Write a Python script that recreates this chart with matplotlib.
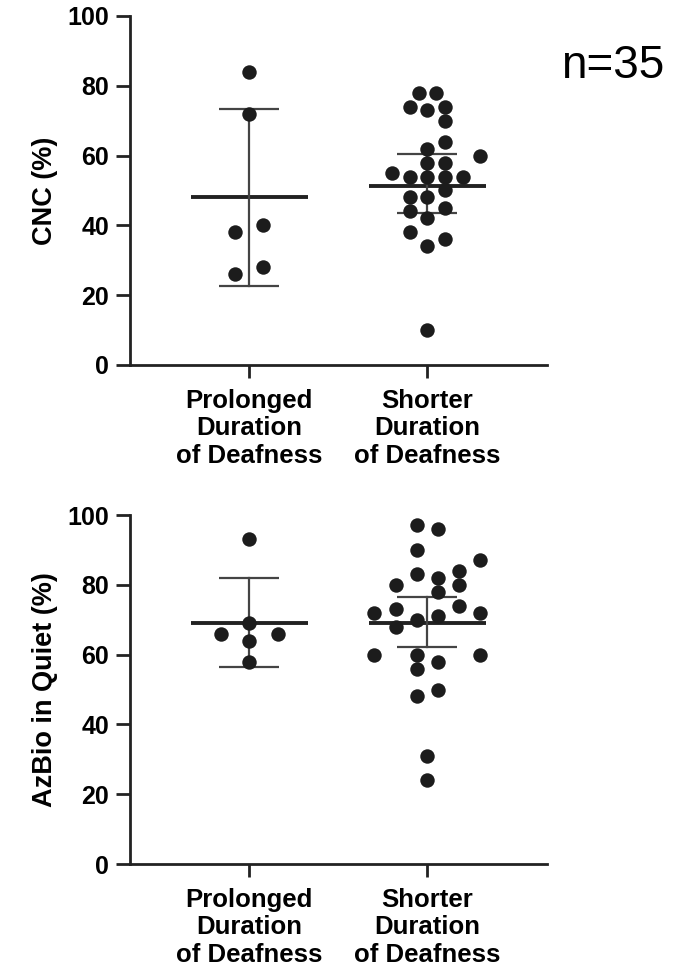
import numpy as np
import matplotlib
matplotlib.use("Agg")
import matplotlib.pyplot as plt


# ============================================================
# Data
# ============================================================

GROUPS = ["Prolonged\nDuration\nof Deafness", "Shorter\nDuration\nof Deafness"]

# CNC (%)
cnc_prolonged = [84, 72, 38, 40, 26, 28]
cnc_prolonged_slot = [0, 0, -0.8, 0.8, -0.8, 0.8]

cnc_shorter = [78, 78, 74, 73, 74, 70, 64, 62, 60, 58, 58, 55, 54, 54, 54, 54,
               50, 48, 48, 44, 45, 42, 38, 36, 34, 10]
cnc_shorter_slot = [-0.5, 0.5, -1, 0, 1, 1, 1, 0, 3, 0, 1, -2, -1, 0, 1, 2,
                    1, -1, 0, -1, 1, 0, -1, 1, 0, 0]

# centre line, lower bar, upper bar
cnc_summary = [(48.1, 22.6, 73.4), (51.3, 43.5, 60.5)]

# AzBio in Quiet (%)
azbio_prolonged = [93, 69, 66, 66, 64, 58]
azbio_prolonged_slot = [0, 0, -1.6, 1.6, 0, 0]

azbio_shorter = [97, 96, 90, 87, 84, 83, 82, 80, 80, 78, 74, 72, 73, 72, 71, 70,
                 68, 60, 60, 60, 58, 56, 50, 48, 31, 24]
azbio_shorter_slot = [-0.6, 0.6, -0.6, 3, 1.8, -0.6, 0.6, -1.8, 1.8, 0.6, 1.8, -3, -1.8, 3, 0.6, -0.6,
                      -1.8, -3, -0.6, 3, 0.6, -0.6, 0.6, -0.6, 0, 0]

azbio_summary = [(69.1, 56.5, 81.9), (69.1, 62.1, 76.4)]

Y_TICKS = [0, 20, 40, 60, 80, 100]


# ============================================================
# Style
# ============================================================

plt.rcParams.update({
    "font.family": ["Liberation Sans", "DejaVu Sans"],
    "font.size": 18,
    "font.weight": "bold",
})

DOT_COLOR = "#1c1c1c"
LINE_COLOR = "#222222"
SLOT_WIDTH = 0.099


def draw_panel(ax, groups_vals, groups_slots, summary, ylabel):
    for i, (vals, slots) in enumerate(zip(groups_vals, groups_slots)):
        x = i + np.array(slots) * SLOT_WIDTH
        ax.plot(x, vals, "o", color=DOT_COLOR, markersize=10.4,
                markeredgewidth=0, zorder=3)

        centre, low, high = summary[i]
        ax.plot([i - 0.33, i + 0.33], [centre, centre], color=LINE_COLOR,
                linewidth=2.8, solid_capstyle="butt", zorder=2)
        ax.plot([i, i], [low, high], color="#444444", linewidth=1.6, zorder=2)
        for y in (low, high):
            ax.plot([i - 0.168, i + 0.168], [y, y], color="#444444",
                    linewidth=1.6, solid_capstyle="butt", zorder=2)

    ax.set_xlim(-0.67, 1.67)
    ax.set_ylim(0, 100)
    ax.set_yticks(Y_TICKS)
    ax.set_xticks([0, 1])
    ax.set_xticklabels(GROUPS, fontsize=18.5, fontweight="bold")
    ax.set_ylabel(ylabel, fontsize=19.5, fontweight="bold", labelpad=7)

    for side in ("top", "right"):
        ax.spines[side].set_visible(False)
    for side in ("left", "bottom"):
        ax.spines[side].set_linewidth(2.0)
        ax.spines[side].set_color("#222222")

    ax.tick_params(axis="y", length=10, width=2.0, pad=5, labelsize=18,
                   color="#222222")
    ax.tick_params(axis="x", length=9, width=2.0, pad=8, labelsize=18.5,
                   color="#222222")
    for lab in ax.get_yticklabels():
        lab.set_fontweight("bold")


# ============================================================
# Plot
# ============================================================

fig = plt.figure(figsize=(6.92, 9.73), dpi=100)

ax_top = fig.add_axes([0.1879, 0.6249, 0.602, 0.3587])
ax_bot = fig.add_axes([0.1879, 0.1120, 0.602, 0.3587])

draw_panel(ax_top, [cnc_prolonged, cnc_shorter],
           [cnc_prolonged_slot, cnc_shorter_slot], cnc_summary, "CNC (%)")
draw_panel(ax_bot, [azbio_prolonged, azbio_shorter],
           [azbio_prolonged_slot, azbio_shorter_slot], azbio_summary,
           "AzBio in Quiet (%)")

fig.text(0.885, 0.9325, "n=35", fontsize=33, fontweight="normal",
         ha="center", va="center", color="black")

fig.savefig("out.png", dpi=100)
plt.close(fig)
